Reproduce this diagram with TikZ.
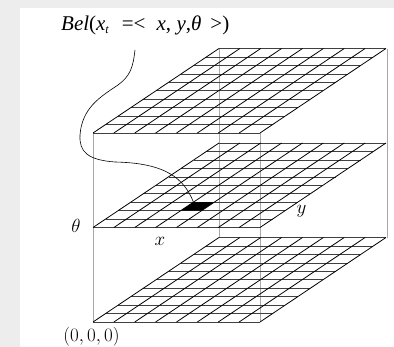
\RequirePackage{fix-cm}
\documentclass[tikz,border=0pt]{standalone}
\usepackage{fontspec}
\usepackage{tikz}
\usetikzlibrary{calc}
\newfontfamily\timesfont{Liberation Serif}
\definecolor{panel}{HTML}{EDEDED}
\definecolor{edge}{HTML}{A8A8A8}
\tikzset{
  hline/.style={black!75,line width=0.5pt},
  dline/.style={black,line width=0.8pt},
  frame/.style={edge,line width=0.6pt},
  lbl/.style={font=\fontsize{19}{22}\selectfont,inner sep=0pt},
}

\begin{document}
\begin{tikzpicture}[x=1pt,y=-1pt]
  \fill[panel] (0,0) rectangle (394,347);
  \fill[white] (20,8) rectangle (394,347);
  \useasboundingbox (0,0) rectangle (394,347);
  % corners of the box
  \coordinate (F0) at (93,322);
  \coordinate (F1) at (260,322);
  \coordinate (B0) at (219,238);
  \coordinate (B1) at (387,238);
  \coordinate (T0) at (93,133);
  \coordinate (T1) at (260,133);
  \coordinate (U0) at (219,49);
  \coordinate (U1) at (387,49);
  \draw[frame] (F0)--(T0);
  \draw[frame] (F1)--(T1);
  \draw[frame] (B0)--(U0);
  \draw[frame] (B1)--(U1);
  % three theta layers, 8 x 10 cells each
  \foreach \k in {0,1,2} {
    \begin{scope}[shift={(93,322-94.5*\k)}]
      \foreach \i in {0,...,10} \draw[hline] (12.6*\i,-8.45*\i) -- ++(167,0);
      \foreach \j in {0,...,8} \draw[dline] (20.875*\j,0) -- ++(126,-84.5);
    \end{scope}
  }
  % the marked cell on the middle layer
  \coordinate (cell) at ($(93,227.5)+(3*20.875+3*12.6,-3*8.45)$);
  \fill (cell) -- ++(20.875,0) -- ++(-12.6,8.45) -- ++(-20.875,0) -- cycle;
  \node[anchor=base west,inner sep=0pt,font=\timesfont\fontsize{21}{25}\selectfont] (bel) at (61,31)
    {\itshape Bel\upshape(\itshape x\raisebox{-3pt}{\fontsize{12}{12}\selectfont\itshape t}\hspace{13pt}\upshape=<\hspace{11pt}\itshape x\upshape,\hspace{5.5pt}\itshape y\upshape,\itshape θ\hspace{9pt}\upshape>)};
  \coordinate (tail) at (135,50);
  \draw[black,line width=0.6pt] (tail) .. controls (133,68) and (130,76) .. (118,85)
    .. controls (100,97) and (82,108) .. (80,135)
    .. controls (79,152) and (88,160) .. (115,162)
    .. controls (165,163) and (184,178) .. (cell);
  \node[lbl] (th) at (76,226) {$\theta$};
  \node[lbl] (xl) at (160,241) {$x$};
  \node[lbl] (yl) at (301.5,211) {$y$};
  \node[lbl] (org) at (91.5,337) {$(0,0,0)$};
\end{tikzpicture}
\end{document}
